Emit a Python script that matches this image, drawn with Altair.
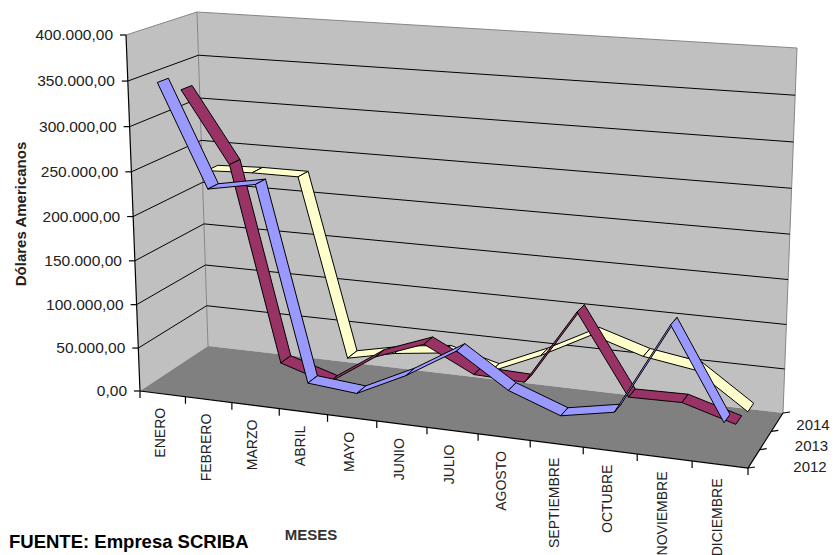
import altair as alt
import pandas as pd

months = ["ENERO","FEBRERO","MARZO","ABRIL","MAYO","JUNIO","JULIO","AGOSTO","SEPTIEMBRE","OCTUBRE","NOVIEMBRE","DICIEMBRE"]
years = ["2012","2013","2014"]
v2012 = [348000,235000,245000,28000,23000,50000,84000,47000,26000,37000,138000,40000]
v2013 = [330000,250000,27000,10000,47000,68000,40000,38000,123000,35000,36000,19000]
v2014 = [226000,228000,228000,21000,33000,40000,25000,50000,80000,62000,53000,13000]
value_ticks = [0,50000,100000,150000,200000,250000,300000,350000,400000]
value_labels = ["0,00","50.000,00","100.000,00","150.000,00","200.000,00","250.000,00","300.000,00","350.000,00","400.000,00"]

VMAX = 400000.0
C = {  # projected corners of the 3D box: (right?, top?, back?)
    (0,0,0):(140,391),(1,0,0):(748,468),(0,0,1):(208,346),(1,0,1):(783,413),
    (0,1,0):(126,35),(1,1,0):(759,81),(0,1,1):(197,12),(1,1,1):(797,48),
}
def P(u,v,d):
    w=v/VMAX
    u2=u-0.112*u*(1-u)
    w2=w-0.04*w*(1-w)
    x=y=0.0
    for (a,b,c),(px,py) in C.items():
        f=(u2 if a else 1-u2)*(w2 if b else 1-w2)*(d if c else 1-d)
        x+=f*px; y+=f*py
    return (x,y)

def poly_rows(pts,group):
    xs=sorted({round(p[0],3) for p in pts})
    rows=[]
    n=len(pts)
    for x in xs:
        ys=[]
        for i in range(n):
            a,b=pts[i],pts[(i+1)%n]
            ax,bx=round(a[0],3),round(b[0],3)
            if min(ax,bx)<=x<=max(ax,bx):
                if ax==bx: ys+= [a[1],b[1]]
                else: ys.append(a[1]+(b[1]-a[1])*(x-ax)/(bx-ax))
        rows.append(dict(x=x,y=min(ys),y2=max(ys),group=group))
    return rows

sx=alt.Scale(domain=[8,831],nice=False,zero=False)
sy=alt.Scale(domain=[555,8],nice=False,zero=False)
X=alt.X("x:Q",scale=sx,axis=None)
Y=alt.Y("y:Q",scale=sy,axis=None)

def area(rows,fill,stroke=None,sw=1):
    kw=dict(fill=fill,orient="vertical",opacity=1)
    if stroke: kw.update(stroke=stroke,strokeWidth=sw)
    return alt.Chart(pd.DataFrame(rows)).mark_area(**kw).encode(x=X,y=Y,y2="y2:Q",detail="group:N")

def lines(segs,color,sw=1):
    rows=[]
    for gi,seg in enumerate(segs):
        for si,(x,y) in enumerate(seg):
            rows.append(dict(x=x,y=y,group=gi,seq=si))
    return alt.Chart(pd.DataFrame(rows)).mark_line(color=color,strokeWidth=sw).encode(
        x=X,y=Y,detail="group:N",order="seq:Q")

layers=[]
# walls and floor
layers.append(area(poly_rows([P(0,0,0),P(0,VMAX,0),P(0,VMAX,1),P(0,0,1)],"side"),"#C0C0C0"))
layers.append(area(poly_rows([P(0,0,1),P(0,VMAX,1),P(1,VMAX,1),P(1,0,1)],"back"),"#C0C0C0"))
layers.append(area(poly_rows([P(0,0,0),P(0,0,1),P(1,0,1),P(1,0,0)],"floor"),"#808080"))
# wall edges
layers.append(lines([[P(0,0,1),P(0,VMAX,1)],[P(0,VMAX,0),P(0,VMAX,1),P(1,VMAX,1),P(1,0,1)]],"#868686",1))
# gridlines
layers.append(lines([[P(0,v,0),P(0,v,1),P(1,v,1)] for v in value_ticks[1:-1]],"#000000",1))

# axes and ticks
axis_segs=[[P(0,0,0),P(0,VMAX,0)],[P(0,0,0),P(1,0,0),P(1,0,1)]]
for v in value_ticks:
    x,y=P(0,v,0); axis_segs.append([(x-6,y),(x,y)])
for i in range(13):
    x,y=P(i/12,0,0); axis_segs.append([(x,y),(x,y+7)])
for k in range(4):
    x,y=P(1,0,k/3); axis_segs.append([(x,y),(x+7,y-1)])
layers.append(lines(axis_segs,"#000000",1.2))

# ribbons
DELTA=0.08
series=[("2014",v2014,5/6,"#FFFFCC"),("2013",v2013,3/6,"#993366"),("2012",v2012,1/6,"#9999FF")]
for name,vals,d,col in series:
    rows=[]
    for i in range(11):
        u0,u1=(i+.5)/12,(i+1.5)/12
        q=[P(u0,vals[i],d-DELTA),P(u1,vals[i+1],d-DELTA),P(u1,vals[i+1],d+DELTA),P(u0,vals[i],d+DELTA)]
        rows+=poly_rows(q,f"{name}-{i}")
    layers.append(area(rows,col,"#000000",1))

# text
def text(rows,**kw):
    return alt.Chart(pd.DataFrame(rows)).mark_text(font="Liberation Sans",**kw).encode(x=X,y=Y,text="t:N")
layers.append(text([dict(x=P(0,v,0)[0]-13,y=P(0,v,0)[1],t=l) for v,l in zip(value_ticks,value_labels)],
                   align="right",baseline="middle",fontSize=15.5,color="#222222"))
mrows=[]
for i,m in enumerate(months):
    x,y=P((i+.5)/12,0,0)
    mrows.append(dict(x=x-2,y=y+14,t=m))
layers.append(text(mrows,angle=270,align="right",baseline="middle",fontSize=14,color="#222222"))
yrows=[dict(x=810+3*(k/2),y=467-42*(k/2),t=yr) for k,yr in enumerate(years)]
layers.append(text(yrows,align="center",baseline="middle",fontSize=15,color="#222222"))
layers.append(text([dict(x=21,y=214,t="Dólares Americanos")],angle=270,align="center",baseline="middle",fontSize=15,fontWeight="bold",color="#222222"))
layers.append(text([dict(x=311,y=535,t="MESES")],align="center",baseline="middle",fontSize=15,fontWeight="bold",color="#333333"))
layers.append(text([dict(x=9,y=542,t="FUENTE: Empresa SCRIBA")],align="left",baseline="middle",fontSize=18.5,fontWeight="bold",color="#000000"))

chart=alt.layer(*layers).properties(width=823,height=547,padding=0,
    autosize=alt.AutoSizeParams(type="none"),background="white").configure_view(stroke=None)
chart.save("out.html",embed_options={"renderer":"svg","actions":False})
